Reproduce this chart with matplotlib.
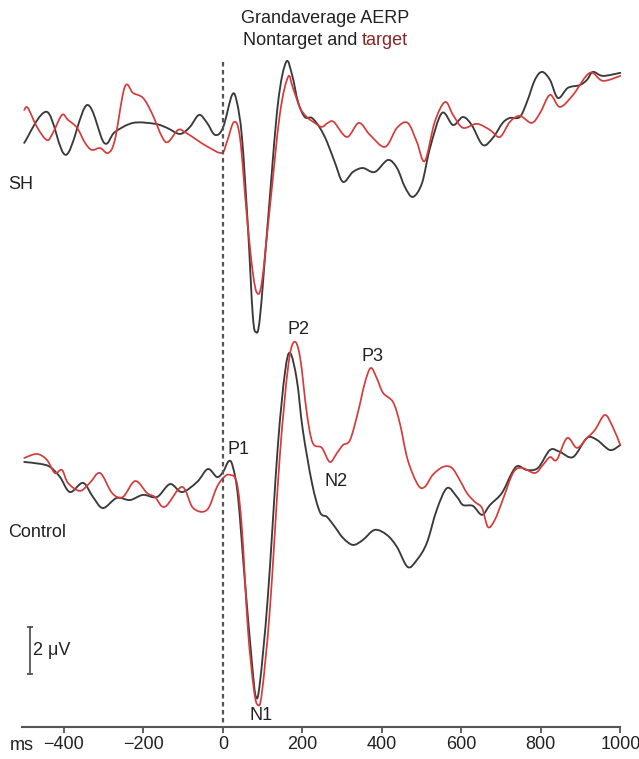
import matplotlib
matplotlib.use("Agg")
import matplotlib.pyplot as plt
from matplotlib.path import Path
from matplotlib.patches import PathPatch
import numpy as np

plt.rcParams["font.family"] = ["Liberation Sans", "DejaVu Sans"]

# ── Grand average AERP traces (time in ms, amplitude in µV) ──────────────
sh_nontarget_ms = [-500, -443, -395, -342, -299, -272, -226, -171, -141, -108,
                   -83, -60, -40, -20, 0, 23, 35, 48, 63, 75,
                   83, 93, 113, 138, 159, 174, 189, 206, 224,
                   244, 262, 282, 302, 327, 352, 382, 415, 438, 458,
                   478, 501, 521, 551, 579, 604, 626, 654, 679, 704,
                   722, 747, 765, 785, 803, 823, 843, 868, 898, 916,
                   931, 956, 1000]
sh_nontarget_uv = [-0.55, 0.77, -1.06, 1.06, -0.55, -0.09, 0.30, 0.26, 0.09, -0.17,
                   0.13, 0.64, 0.30, -0.21, 0.09, 1.49, 1.19, -0.34, -4.17, -7.87,
                   -8.60, -8.00, -3.91, 1.06, 2.89, 2.34, 1.19, 0.55, 0.51,
                   0.09, -0.51, -1.40, -2.21, -1.79, -1.62, -1.79, -1.28, -1.62, -2.43,
                   -2.85, -2.26, -0.77, 0.72, 0.21, 0.55, 0.21, -0.64, -0.34, 0.30,
                   0.51, 0.55, 1.19, 2.13, 2.47, 2.13, 1.36, 1.79, 1.91, 2.13,
                   2.47, 2.30, 2.43]

sh_target_ms = [-500, -491, -468, -443, -428, -405, -390, -367, -347, -330,
                -309, -289, -272, -247, -226, -201, -179, -153, -138, -113,
                -96, -65, -38, -3, 10, 28, 43, 60, 75, 86,
                98, 118, 143, 164, 176, 194, 211, 231, 249, 264,
                279, 312, 342, 370, 408, 438, 465, 488, 508, 533,
                559, 579, 604, 639, 672, 697, 722, 747, 777, 798,
                823, 848, 881, 923, 956, 1000]
sh_target_uv = [0.85, 0.94, 0.13, -0.43, -0.13, 0.64, 0.43, 0.09, -0.55, -0.85,
                -0.77, -0.98, -0.43, 1.83, 1.57, 1.36, 0.72, -0.30, -0.51, 0.0,
                -0.09, -0.43, -0.72, -0.98, -0.51, 0.34, -0.34, -3.62, -6.04, -6.94,
                -6.47, -3.32, 0.64, 2.26, 1.79, 0.94, 0.55, 0.30, 0.13, 0.30,
                0.34, -0.30, 0.30, -0.21, -0.72, 0.09, 0.30, -0.51, -1.32, 0.34,
                1.19, 0.64, 0.09, 0.26, 0.0, -0.30, 0.34, 0.60, 0.30, 0.72,
                1.49, 0.98, 1.49, 2.43, 2.09, 2.30]

ctl_nontarget_ms = [-500, -460, -435, -410, -385, -352, -327, -302, -267, -234,
                    -201, -166, -133, -103, -65, -38, -15, 0, 15, 25,
                    38, 55, 73, 83, 93, 113, 138, 156, 169, 186,
                    201, 224, 244, 262, 282, 302, 327, 352, 382, 413,
                    438, 465, 488, 513, 538, 564, 589, 604, 629, 652,
                    672, 702, 727, 742, 765, 793, 823, 848, 881, 916,
                    941, 974, 1000]
ctl_nontarget_uv = [0.34, 0.26, 0.13, -0.30, -0.94, -0.55, -1.15, -1.62, -1.19, -1.28,
                    -1.06, -1.15, -0.60, -0.94, -0.51, 0.04, -0.30, -0.09, 0.38, 0.13,
                    -1.15, -4.68, -8.21, -9.66, -9.06, -5.40, 0.98, 4.13, 4.98, 3.83,
                    1.70, -0.55, -1.79, -2.00, -2.43, -2.89, -3.19, -2.98, -2.55, -2.77,
                    -3.28, -4.13, -3.83, -3.11, -1.70, -0.77, -1.15, -1.49, -1.53, -1.91,
                    -1.49, -0.98, -0.13, 0.17, 0.0, 0.09, 0.85, 0.77, 0.55, 1.36,
                    1.28, 0.85, 1.06]

ctl_target_ms = [-500, -468, -443, -423, -405, -390, -360, -335, -309, -279,
                 -252, -221, -191, -171, -146, -103, -75, -40, -15, 3,
                 18, 35, 48, 63, 78, 88, 98, 118, 143, 164,
                 179, 194, 211, 226, 249, 269, 287, 302, 320, 340,
                 357, 372, 387, 403, 428, 445, 465, 491, 508, 528,
                 554, 576, 596, 614, 634, 652, 667, 684, 704, 730,
                 752, 785, 805, 823, 840, 866, 891, 916, 936, 961,
                 981, 1000]
ctl_target_uv = [0.51, 0.68, 0.43, -0.13, 0.0, -0.55, -0.89, -0.55, -0.13, -0.98,
                 -1.15, -0.47, -0.98, -1.15, -1.57, -0.72, -1.62, -1.70, -0.72, -0.30,
                 -0.21, -0.55, -2.55, -6.81, -9.36, -10.0, -9.49, -5.96, 0.55, 4.38,
                 5.45, 4.81, 2.43, 1.15, 0.94, 0.34, 0.72, 1.06, 1.28, 2.47,
                 3.70, 4.34, 3.91, 3.28, 2.89, 2.00, 0.43, -0.64, -0.72, -0.21,
                 0.13, 0.09, -0.43, -0.98, -1.36, -1.62, -2.43, -2.13, -1.28, -0.13,
                 0.09, -0.13, 0.21, 0.55, 0.43, 1.36, 0.94, 1.36, 1.70, 2.34,
                 1.83, 1.06]

x_ticks = [-400, -200, 0, 200, 400, 600, 800, 1000]

# component labels: (text, ms, µV relative to control baseline)
components = [("P1", 38, 0.85), ("N1", 96, -10.43), ("P2", 191, 5.96),
              ("N2", 284, -0.51), ("P3", 377, 4.85)]

SH_OFFSET = 14.47      # vertical offset of SH traces (µV)
AXIS_Y = -10.94        # where the time axis sits
BLACK = "#3a3a3a"
RED = "#d63b3b"
TXT = "#222222"
FS = 13


def smooth_trace(ax, x, y, **kw):
    # draw a Catmull-Rom style bezier through the read points (no new data)
    pts = np.column_stack([x, y]).astype(float)
    p = np.vstack([pts[0], pts, pts[-1]])
    verts = [pts[0]]
    codes = [Path.MOVETO]
    for i in range(1, len(p) - 2):
        p0, p1, p2, p3 = p[i - 1], p[i], p[i + 1], p[i + 2]
        verts += [p1 + (p2 - p0) / 6, p2 - (p3 - p1) / 6, p2]
        codes += [Path.CURVE4] * 3
    ax.add_patch(PathPatch(Path(verts, codes), fill=False, capstyle="round",
                           joinstyle="round", **kw))


fig = plt.figure(figsize=(6.39, 7.59), dpi=100)
ax = fig.add_axes([0, 0, 1, 1])
ax.set_xlim(-561, 1047)
ax.set_ylim(-12.30, 20.0)

smooth_trace(ax, sh_nontarget_ms, np.array(sh_nontarget_uv) + SH_OFFSET, edgecolor=BLACK, lw=1.35)
smooth_trace(ax, sh_target_ms, np.array(sh_target_uv) + SH_OFFSET, edgecolor=RED, lw=1.25)
smooth_trace(ax, ctl_nontarget_ms, ctl_nontarget_uv, edgecolor=BLACK, lw=1.35)
smooth_trace(ax, ctl_target_ms, ctl_target_uv, edgecolor=RED, lw=1.25)

# stimulus onset
ax.plot([0, 0], [17.36, AXIS_Y], color="#555555", lw=1.6, ls=(0, (2, 1.6)))

# time axis
for side in ["left", "right", "top"]:
    ax.spines[side].set_visible(False)
ax.spines["bottom"].set_position(("data", AXIS_Y))
ax.spines["bottom"].set_bounds(-506, 1000)
ax.spines["bottom"].set_color("#555555")
ax.spines["bottom"].set_linewidth(1.5)
ax.set_xticks(x_ticks)
ax.set_yticks([])
ax.tick_params(axis="x", direction="out", length=4, width=1.3, color="#555555",
               labelsize=FS, labelcolor=TXT, pad=2.5)
ax.text(-506, -11.72, "ms", ha="center", va="center", fontsize=FS, color=TXT)

# 2 µV scale bar
ax.plot([-486, -486], [-6.68, -8.68], color="#555555", lw=1.3,
        marker="_", markersize=5, markeredgewidth=1.3)
ax.text(-477, -7.68, "2 μV", ha="left", va="center", fontsize=FS, color=TXT)

# group labels
ax.text(-541, 12.13, "SH", ha="left", va="center", fontsize=FS, color=TXT)
ax.text(-541, -2.68, "Control", ha="left", va="center", fontsize=FS, color=TXT)

for name, t, v in components:
    ax.text(t, v, name, ha="center", va="center", fontsize=FS, color=TXT)

# title, second line partly coloured
cx = 0.509
fig.text(cx, 0.976, "Grandaverage AERP", ha="center", va="center", fontsize=FS, color=TXT)
renderer = fig.canvas.get_renderer()
full = fig.text(0, 0, "Nontarget and target", fontsize=FS)
red_part = fig.text(0, 0, "target", fontsize=FS)
w_full = full.get_window_extent(renderer).width / fig.bbox.width
w_red = red_part.get_window_extent(renderer).width / fig.bbox.width
full.remove()
red_part.remove()
x0 = cx - w_full / 2
fig.text(x0, 0.947, "Nontarget and", ha="left", va="center", fontsize=FS, color=TXT)
fig.text(x0 + w_full - w_red, 0.947, "target", ha="left", va="center", fontsize=FS,
         color="#8b2525")

fig.savefig("out.png", dpi=100)
